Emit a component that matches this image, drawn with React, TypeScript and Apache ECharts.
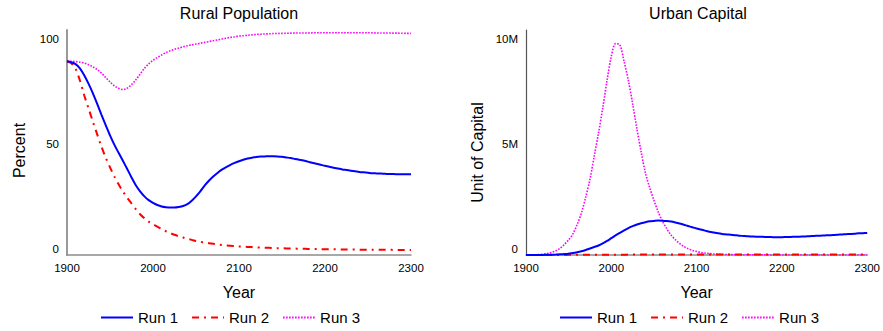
import React, { useEffect, useRef } from "react";
import * as echarts from "echarts";

const years = [
  1900, 1905, 1910, 1915, 1920, 1925, 1930, 1935, 1940, 1945,
  1950, 1955, 1960, 1965, 1970, 1975, 1980, 1985, 1990, 1995,
  2000, 2005, 2010, 2015, 2020, 2025, 2030, 2035, 2040, 2045,
  2050, 2055, 2060, 2065, 2070, 2075, 2080, 2085, 2090, 2095,
  2100, 2105, 2110, 2115, 2120, 2125, 2130, 2135, 2140, 2145,
  2150, 2155, 2160, 2165, 2170, 2175, 2180, 2185, 2190, 2195,
  2200, 2205, 2210, 2215, 2220, 2225, 2230, 2235, 2240, 2245,
  2250, 2255, 2260, 2265, 2270, 2275, 2280, 2285, 2290, 2295,
  2300,
];

const ruralRun1 = [
  92.1, 91.7, 90.8, 88.8, 85.5, 81.5, 77.0, 72.0, 66.8, 61.8,
  56.9, 52.5, 48.6, 44.8, 40.9, 36.9, 33.2, 30.3, 27.9, 26.1,
  24.8, 23.8, 23.1, 22.75, 22.6, 22.6, 22.85, 23.3, 24.2, 25.8,
  27.9, 30.3, 33.0, 35.3, 37.3, 39.0, 40.6, 41.8, 42.9, 43.8,
  44.6, 45.3, 45.9, 46.3, 46.6, 46.8, 46.9, 47.0, 47.0, 46.9,
  46.7, 46.4, 46.1, 45.7, 45.3, 44.9, 44.4, 43.9, 43.4, 42.9,
  42.4, 42.0, 41.5, 41.1, 40.7, 40.4, 40.1, 39.8, 39.5, 39.3,
  39.1, 38.9, 38.8, 38.7, 38.6, 38.5, 38.5, 38.4, 38.4, 38.4,
  38.4,
];
const ruralRun2 = [
  92.1, 91.2, 88.5, 83.0, 76.0, 69.8, 63.5, 57.5, 51.6, 46.3,
  41.7, 37.4, 33.6, 30.2, 27.2, 24.5, 21.8, 19.4, 17.5, 15.9,
  14.6, 13.5, 12.4, 11.3, 10.4, 9.6, 8.9, 8.3, 7.7, 7.2,
  6.7, 6.3, 5.9, 5.6, 5.3, 5.0, 4.8, 4.6, 4.4, 4.25,
  4.1, 3.95, 3.85, 3.75, 3.65, 3.55, 3.45, 3.4, 3.3, 3.25,
  3.2, 3.15, 3.1, 3.05, 3.0, 2.95, 2.9, 2.87, 2.83, 2.8,
  2.75, 2.72, 2.7, 2.67, 2.65, 2.62, 2.6, 2.58, 2.55, 2.53,
  2.5, 2.5, 2.48, 2.47, 2.45, 2.45, 2.43, 2.42, 2.41, 2.4,
  2.4,
];
const ruralRun3 = [
  92.1, 92.1, 92.0, 91.7, 91.3, 90.5, 89.5, 88.2, 86.5, 84.4,
  82.3, 80.5, 79.3, 78.7, 79.3, 81.0, 83.3, 86.0, 88.7, 90.9,
  92.6, 93.9, 95.1, 96.2, 97.1, 97.8, 98.4, 99.0, 99.5, 99.9,
  100.3, 100.7, 101.1, 101.5, 101.9, 102.3, 102.7, 103.1, 103.5, 103.8,
  104.1, 104.3, 104.5, 104.7, 104.9, 105.0, 105.1, 105.2, 105.3, 105.35,
  105.4, 105.45, 105.5, 105.55, 105.6, 105.6, 105.6, 105.65, 105.7, 105.7,
  105.7, 105.7, 105.7, 105.7, 105.7, 105.7, 105.7, 105.7, 105.7, 105.7,
  105.7, 105.65, 105.6, 105.6, 105.6, 105.55, 105.5, 105.5, 105.45, 105.4,
  105.4,
];

const capitalRun1M = [
  0, 0.001, 0.002, 0.003, 0.005, 0.008, 0.012, 0.02, 0.03, 0.045,
  0.065, 0.09, 0.13, 0.18, 0.24, 0.31, 0.38, 0.45, 0.55, 0.67,
  0.8, 0.93, 1.05, 1.17, 1.28, 1.37, 1.45, 1.51, 1.56, 1.6,
  1.62, 1.635, 1.63, 1.615, 1.59, 1.55, 1.5, 1.44, 1.38, 1.32,
  1.26, 1.21, 1.16, 1.11, 1.07, 1.03, 1.0, 0.98, 0.96, 0.94,
  0.92, 0.905, 0.89, 0.88, 0.87, 0.865, 0.86, 0.855, 0.85, 0.85,
  0.85, 0.855, 0.86, 0.865, 0.87, 0.88, 0.89, 0.9, 0.91, 0.92,
  0.93, 0.94, 0.95, 0.96, 0.98, 0.99, 1.0, 1.01, 1.03, 1.04,
  1.05,
];
const capitalRun2M = [
  0, 0, 0.001, 0.001, 0.002, 0.002, 0.003, 0.003, 0.004, 0.005,
  0.006, 0.006, 0.007, 0.008, 0.009, 0.01, 0.011, 0.012, 0.013, 0.014,
  0.015, 0.016, 0.016, 0.017, 0.018, 0.018, 0.019, 0.019, 0.02, 0.02,
  0.02, 0.02, 0.02, 0.02, 0.02, 0.02, 0.02, 0.02, 0.02, 0.02,
  0.02, 0.02, 0.02, 0.02, 0.02, 0.02, 0.02, 0.02, 0.02, 0.02,
  0.02, 0.02, 0.02, 0.02, 0.02, 0.02, 0.02, 0.02, 0.02, 0.02,
  0.02, 0.02, 0.02, 0.02, 0.02, 0.02, 0.02, 0.02, 0.02, 0.02,
  0.02, 0.02, 0.02, 0.02, 0.02, 0.02, 0.02, 0.02, 0.02, 0.02,
  0.02,
];
const capitalRun3M = [
  0, 0.005, 0.01, 0.02, 0.04, 0.07, 0.12, 0.2, 0.32, 0.5,
  0.72, 1.0, 1.45, 2.0, 2.75, 3.6, 4.7, 5.8, 7.0, 8.3,
  9.45, 10.05, 10.0, 9.2, 8.3, 7.2, 6.0, 4.9, 3.9, 3.2,
  2.6, 2.05, 1.6, 1.25, 0.95, 0.73, 0.55, 0.41, 0.3, 0.22,
  0.17, 0.12, 0.09, 0.07, 0.05, 0.04, 0.03, 0.025, 0.02, 0.015,
  0.012, 0.01, 0.01, 0.008, 0.006, 0.005, 0.004, 0.003, 0.002, 0.002,
  0.001, 0.001, 0.001, 0, 0, 0, 0, 0, 0, 0,
  0, 0, 0, 0, 0, 0, 0, 0, 0, 0,
  0,
];

const runNames = ["Run 1", "Run 2", "Run 3"];
const xTicks = [1900, 2000, 2100, 2200, 2300];
const ruralTicks = [0, 50, 100];
const capitalTicksM = [0, 5, 10];

const FONT = "Liberation Sans, Arial, Helvetica, sans-serif";

function pairs(vals: number[]) {
  return years.map((y, i) => [y, vals[i]]);
}

export default function App() {
  const ref = useRef<HTMLDivElement>(null);
  useEffect(() => {
    if (!ref.current) return;
    const chart = echarts.init(ref.current, null, { renderer: "svg" });
    const styles = [
      { color: "#0000ff", width: 2, type: "solid" as any },
      { color: "#ff0000", width: 2, type: [7, 5, 2, 5] as any },
      { color: "#ff00ff", width: 1.6, type: [1.6, 1.4] as any },
    ];
    const xAxisBase = (gridIndex: number) => ({
      type: "value",
      gridIndex,
      min: 1900,
      max: 2300,
      interval: 100,
      name: "Year",
      nameLocation: "middle",
      nameGap: 29,
      nameTextStyle: { fontFamily: FONT, fontSize: 16, color: "#000" },
      axisLine: { show: true, lineStyle: { color: "#8c8c8c", width: 1.5 } },
      axisTick: { show: false },
      splitLine: { show: false },
      axisLabel: {
        fontFamily: FONT,
        fontSize: 11.5,
        color: "#000",
        margin: 7,
        customValues: xTicks,
        formatter: (v: number) => String(v),
      },
    });
    const series: any[] = [];
    const rural = [ruralRun1, ruralRun2, ruralRun3];
    const cap = [capitalRun1M, capitalRun2M, capitalRun3M];
    [rural, cap].forEach((set, gi) => {
      set.forEach((vals, i) => {
        series.push({
          type: "line",
          name: runNames[i],
          xAxisIndex: gi,
          yAxisIndex: gi,
          data: pairs(vals),
          smooth: 0.3,
          showSymbol: false,
          symbol: "none",
          lineStyle: styles[i],
          itemStyle: { color: styles[i].color },
          z: 3 - i,
        });
      });
    });
    const legendBase = {
      data: runNames,
      top: 305,
      itemWidth: 32,
      itemHeight: 14,
      itemGap: 13,
      itemStyle: { opacity: 0 },
      textStyle: { fontFamily: FONT, fontSize: 15, color: "#000" },
    };
    const titleStyle = { fontFamily: FONT, fontSize: 16, fontWeight: "normal", color: "#000" };
    chart.setOption({
      animation: false,
      backgroundColor: "#fff",
      title: [
        { text: "Rural Population", left: 239, top: 5, padding: 0, textAlign: "center", textStyle: titleStyle },
        { text: "Urban Capital", left: 698, top: 5, padding: 0, textAlign: "center", textStyle: titleStyle },
      ],
      legend: [
        { ...legendBase, left: 95 },
        { ...legendBase, left: 554 },
      ],
      grid: [
        { left: 67, top: 30, width: 344, height: 225 },
        { left: 526, top: 30, width: 344, height: 225 },
      ],
      xAxis: [xAxisBase(0), xAxisBase(1)],
      yAxis: [
        {
          type: "value",
          gridIndex: 0,
          min: 0,
          max: 107,
          name: "Percent",
          nameLocation: "middle",
          nameGap: 40,
          nameTextStyle: { fontFamily: FONT, fontSize: 16, color: "#000", padding: [0, 16, 0, 0] },
          axisLine: { show: true, lineStyle: { color: "#999", width: 2 } },
          axisTick: { show: false },
          splitLine: { show: false },
          axisLabel: {
            fontFamily: FONT,
            fontSize: 11.5,
            color: "#000",
            margin: 8,
            verticalAlign: "bottom",
            customValues: ruralTicks,
            formatter: (v: number) => String(v),
          },
        },
        {
          type: "value",
          gridIndex: 1,
          min: 0,
          max: 10.7,
          name: "Unit of Capital",
          nameLocation: "middle",
          nameGap: 41,
          nameTextStyle: { fontFamily: FONT, fontSize: 16, color: "#000", padding: [0, 20, 0, 0] },
          axisLine: { show: true, lineStyle: { color: "#555", width: 1.2 } },
          axisTick: { show: false },
          splitLine: { show: false },
          axisLabel: {
            fontFamily: FONT,
            fontSize: 11.5,
            color: "#000",
            margin: 8,
            verticalAlign: "bottom",
            customValues: capitalTicksM,
            formatter: (v: number) => (v === 0 ? "0" : v + "M"),
          },
        },
      ],
      series,
    });
    return () => chart.dispose();
  }, []);
  return <div ref={ref} style={{ position: "fixed", left: 0, top: 0, width: 883, height: 331 }} />;
}
